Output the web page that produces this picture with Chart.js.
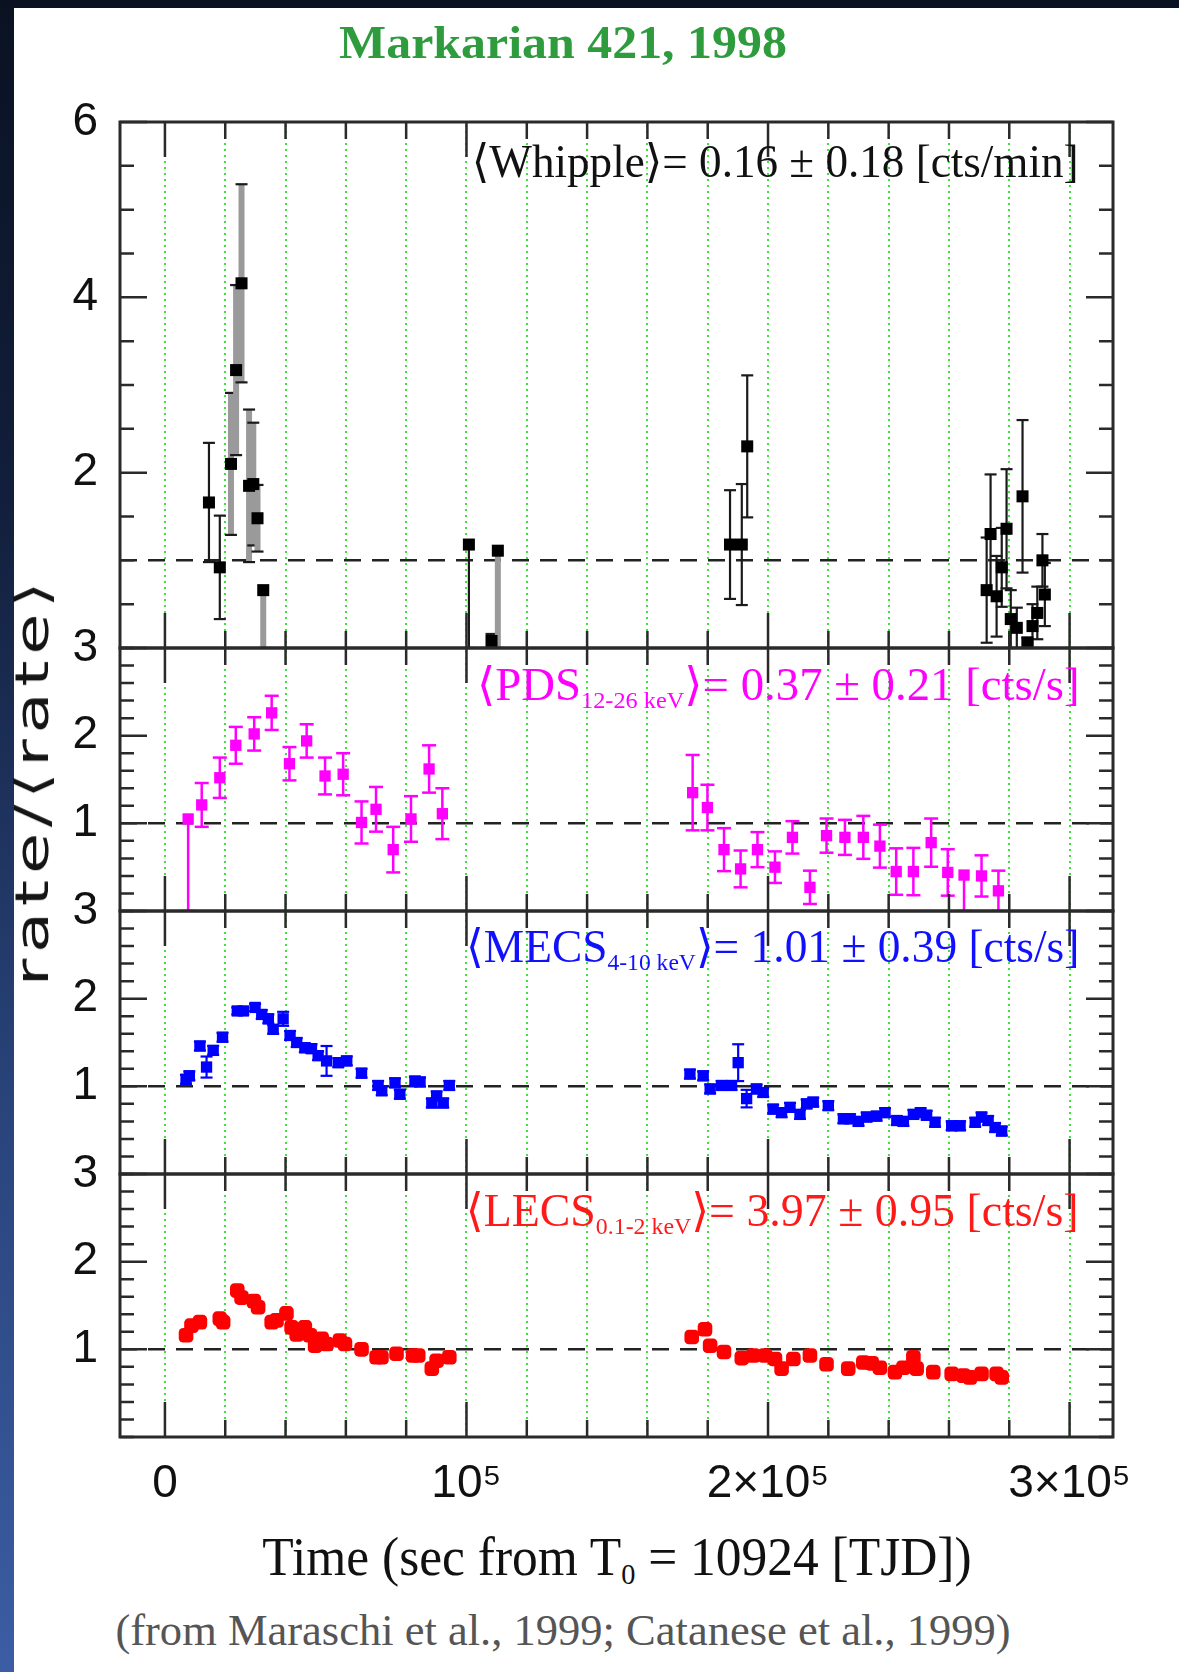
<!DOCTYPE html>
<html lang="en">
<head>
<meta charset="UTF-8">
<title>Markarian 421, 1998</title>
<script src="https://cdn.jsdelivr.net/npm/chart.js"></script>
<style>
  html, body { margin: 0; padding: 0; }
  body {
    width: 1179px; height: 1672px; overflow: hidden; position: relative;
    background: linear-gradient(180deg, #0a1222 0%, #121f3c 30%, #284379 65%, #3c5da4 100%);
  }
  .page { position: absolute; left: 14px; top: 8px; right: 0; bottom: 0; background: #fff; }
  #chart { position: absolute; left: 0; top: 0; }
  .txt { position: absolute; white-space: nowrap; line-height: 1; }
  .center { transform: translate(-50%, -50%) scaleX(var(--k, 1)); }
  .right { transform-origin: 100% 50%; transform: scaleX(var(--k, 1)); }
  .rot { transform: translate(-50%, -50%) rotate(-90deg) scaleX(var(--k, 1)); }
  .serif { font-family: 'Liberation Serif', 'DejaVu Serif', serif; }
  .ann { font-size: 46px; right: 100px; }
  .ann sub { font-size: 0.52em; vertical-align: -0.32em; }
</style>
</head>
<body>
<div class="page"></div>
<canvas id="chart" width="1179" height="1517"></canvas>

<div class="txt center serif" data-w="448" style="left:563px; top:43px; font-size:46px; font-weight:bold; color:#2e9b3d;">Markarian 421, 1998</div>

<div class="txt right serif ann" data-w="607" style="top:139px; color:#111;">⟨Whipple⟩= 0.16 ± 0.18 [cts/min]</div>
<div class="txt right serif ann" data-w="603" style="top:662px; color:#ff00ff;">⟨PDS<sub>12-26 keV</sub>⟩= 0.37 ± 0.21 [cts/s]</div>
<div class="txt right serif ann" data-w="613" style="top:924px; color:#1010ff;">⟨MECS<sub>4-10 keV</sub>⟩= 1.01 ± 0.39 [cts/s]</div>
<div class="txt right serif ann" data-w="613" style="top:1188px; color:#ff1a1a;">⟨LECS<sub>0.1-2 keV</sub>⟩= 3.97 ± 0.95 [cts/s]</div>

<div class="txt rot" data-w="410" style="left:32px; top:781px; font-size:46px; font-family:'DejaVu Sans', sans-serif; color:#151515; letter-spacing:4px;">rate/⟨rate⟩</div>

<div class="txt center serif" data-w="709" style="left:617px; top:1560px; font-size:54px; color:#111;">Time (sec from T<sub style="font-size:0.55em; vertical-align:-0.3em;">0</sub> = 10924 [TJD])</div>
<div class="txt center serif" data-w="896" style="left:563px; top:1631px; font-size:44px; color:#555;">(from Maraschi et al., 1999; Catanese et al., 1999)</div>

<script>
// --- Whipple (TeV), counts normalised to the mean ---
const whippleTime = [14600, 18200, 21900, 23600, 25400, 27900, 29300, 30700, 32600,
  100800, 108300, 110400,
  187400, 191300, 193100,
  272500, 273800, 275800, 277500, 279100, 280500, 282500, 284400, 286000, 287700, 289300, 291000, 291800];
const whippleRate = [1.66, 0.92, 2.10, 3.17, 4.16, 1.85, 1.87, 1.48, 0.66,
  1.18, 0.08, 1.11,
  1.18, 1.18, 2.30,
  0.66, 1.30, 0.59, 0.92, 1.36, 0.33, 0.23, 1.73, 0.06, 0.25, 0.40, 1.00, 0.61];
// [lower, upper] where the bar is one-sided
const whippleErr = [0.68, 0.59, 0.81, 0.97, 1.13, 0.87, 0.70, 0.38, [0.66, 0],
  [1.18, 0], 0.08, [1.11, 0],
  0.62, 0.69, 0.81,
  0.60, 0.68, 0.46, 0.45, 0.68, 0.33, 0.23, 0.87, 0.06, 0.25, 0.30, 0.30, 0.36];

// --- BeppoSAX PDS 12-26 keV ---
const pdsTime = [7700, 12200, 18200, 23500, 29600, 35400, 41300, 47000, 53100, 59100, 65200, 70000, 75700, 81600, 87600, 92000,
  175000, 179900, 185400, 190900, 196500, 202300, 208100, 213900, 219400, 225500, 231600, 237100, 242500, 248200, 254100, 259600, 265000, 270800, 276400];
const pdsRate = [1.05, 1.21, 1.52, 1.89, 2.02, 2.26, 1.68, 1.94, 1.54, 1.56, 1.01, 1.16, 0.70, 1.05, 1.62, 1.11,
  1.35, 1.18, 0.70, 0.48, 0.70, 0.50, 0.84, 0.27, 0.86, 0.84, 0.84, 0.74, 0.45, 0.45, 0.78, 0.44, 0.41, 0.40, 0.23];
const pdsErr = [[1.05, 0], 0.25, 0.23, 0.21, 0.19, 0.195, 0.19, 0.19, 0.21, 0.24, 0.24, 0.255, 0.26, 0.26, 0.27, 0.29,
  0.43, 0.26, 0.245, 0.21, 0.20, 0.18, 0.185, 0.19, 0.195, 0.20, 0.245, 0.245, 0.265, 0.27, 0.275, 0.265, [0.41, 0], 0.235, 0.23];

// --- BeppoSAX MECS 4-10 keV ---
const mecsTime = [7000, 8100, 11600, 13800, 16000, 19100, 24000, 26000, 29900, 32100, 34300, 35900, 39200, 41500, 43700, 46400,
  48600, 50800, 53600, 57500, 60300, 65200, 70700, 71900, 76300, 77900, 82900, 84600, 88500, 90100, 92300, 94300,
  174100, 178500, 180800, 184600, 187900, 190100, 192900, 196200, 198400, 201700, 204500, 207300, 210600, 212800, 215000, 220000,
  225000, 227200, 230000, 232700, 236000, 238800, 242700, 244900, 248200, 250600, 252600, 255400, 260900, 263700, 268700, 270800,
  273000, 275300, 277500];
const mecsRate = [1.08, 1.12, 1.46, 1.22, 1.41, 1.56, 1.86, 1.86, 1.90, 1.82, 1.77, 1.65, 1.77, 1.58, 1.50, 1.44,
  1.43, 1.35, 1.29, 1.27, 1.29, 1.15, 1.01, 0.95, 1.04, 0.91, 1.06, 1.05, 0.81, 0.89, 0.81, 1.01,
  1.14, 1.12, 0.97, 1.01, 1.01, 1.27, 0.86, 0.97, 0.93, 0.74, 0.70, 0.76, 0.68, 0.80, 0.82, 0.78,
  0.63, 0.63, 0.60, 0.65, 0.66, 0.70, 0.61, 0.60, 0.68, 0.70, 0.67, 0.59, 0.55, 0.55, 0.59, 0.65,
  0.61, 0.53, 0.49];
const mecsErr = [0.05, 0.05, 0.05, 0.12, 0.05, 0.05, 0.04, 0.04, 0.04, 0.05, 0.05, 0.05, 0.08, 0.05, 0.05, 0.05,
  0.05, 0.05, 0.17, 0.05, 0.05, 0.05, 0.05, 0.05, 0.05, 0.05, 0.05, 0.05, 0.05, 0.05, 0.05, 0.05,
  0.05, 0.05, 0.05, 0.05, 0.05, 0.21, 0.10, 0.05, 0.05, 0.05, 0.05, 0.05, 0.05, 0.05, 0.05, 0.05,
  0.05, 0.05, 0.05, 0.05, 0.05, 0.05, 0.05, 0.05, 0.05, 0.05, 0.05, 0.05, 0.05, 0.05, 0.05, 0.05,
  0.05, 0.05, 0.05];

// --- BeppoSAX LECS 0.1-2 keV ---
const lecsTime = [7000, 8800, 11600, 18200, 19300, 24000, 25400, 29500, 30900, 35400, 37000, 40300, 42000, 43700, 46400,
  48100, 49800, 52000, 53600, 58000, 59700, 65200, 70200, 71800, 76800, 82300, 84000, 88500, 90100, 94300,
  174700, 179100, 180800, 185400, 191300, 195100, 199000, 202300, 204500, 208400, 213900, 219400, 226600, 231600,
  234400, 237100, 242100, 244900, 248200, 249300, 254800, 260900, 264800, 267000, 270800, 275800, 277500];
const lecsRate = [1.16, 1.27, 1.31, 1.35, 1.31, 1.67, 1.59, 1.55, 1.48, 1.31, 1.33, 1.41, 1.25, 1.17, 1.25,
  1.16, 1.04, 1.12, 1.06, 1.10, 1.06, 1.00, 0.91, 0.91, 0.95, 0.93, 0.93, 0.78, 0.87, 0.91,
  1.14, 1.23, 1.04, 0.97, 0.90, 0.93, 0.93, 0.89, 0.78, 0.89, 0.93, 0.83, 0.78, 0.85,
  0.84, 0.79, 0.74, 0.79, 0.91, 0.78, 0.74, 0.72, 0.70, 0.68, 0.72, 0.72, 0.68];
const lecsErr = lecsRate.map(() => 0.03);

// --- axes ---
const xTicks = [0, 20000, 40000, 60000, 80000, 100000, 120000, 140000, 160000, 180000, 200000,
  220000, 240000, 260000, 280000, 300000];
const xLabelValues = [0, 100000, 200000, 300000];
const xTickLabels = ['0', '10⁵', '2×10⁵', '3×10⁵'];
const whippleTicks = [0, 0.5, 1, 1.5, 2, 2.5, 3, 3.5, 4, 4.5, 5, 5.5, 6];
const whippleLabels = [2, 4, 6];
const rateTicks = [0, 0.2, 0.4, 0.6, 0.8, 1, 1.2, 1.4, 1.6, 1.8, 2, 2.2, 2.4, 2.6, 2.8, 3];
const rateLabels = [1, 2, 3];
const meanLevel = 1;

const tickFont = { family: "'Liberation Sans Narrow', 'Liberation Sans', sans-serif", size: 46 };
const GREEN = '#3de23d';
const GRAY_BARS = [2, 3, 4, 5, 6, 7, 8, 11];

function pts(t, v) { return t.map((x, i) => ({ x: x, y: v[i] })); }

function panelScale(ticks, labels, max, weight, order) {
  return {
    type: 'linear', position: 'left', stack: 'panels', stackWeight: weight, weight: order,
    min: 0, max: max, offset: false,
    afterFit: s => { s.width = 120; },
    afterBuildTicks: s => { s.ticks = ticks.map(v => ({ value: v })); },
    grid: { display: false, drawTicks: false },
    border: { display: false },
    ticks: {
      autoSkip: false, padding: 22, color: '#111', font: tickFont,
      callback: v => labels.includes(v) ? String(v) : ''
    }
  };
}

// green dotted time grid + dashed mean line in each panel
const panelBack = {
  id: 'panelBack',
  beforeDatasetsDraw(chart) {
    const ctx = chart.ctx, x = chart.scales.x;
    const ys = ['yW', 'yP', 'yM', 'yL'].map(id => chart.scales[id]);
    ctx.save();
    ctx.strokeStyle = GREEN; ctx.lineWidth = 2; ctx.setLineDash([2, 4]);
    xTicks.forEach(v => {
      const px = Math.round(x.getPixelForValue(v));
      ys.forEach(y => {
        ctx.beginPath(); ctx.moveTo(px, y.top + 3); ctx.lineTo(px, y.bottom - 2); ctx.stroke();
      });
    });
    ctx.strokeStyle = '#222'; ctx.lineWidth = 2.5; ctx.setLineDash([17, 11]);
    ys.forEach(y => {
      const py = y.getPixelForValue(meanLevel);
      ctx.beginPath(); ctx.moveTo(x.left, py); ctx.lineTo(x.right, py); ctx.stroke();
    });
    ctx.restore();
  }
};

const errorBars = {
  id: 'errorBars',
  beforeDatasetsDraw(chart) {
    const ctx = chart.ctx, x = chart.scales.x;
    chart.data.datasets.forEach(ds => {
      const y = chart.scales[ds.yAxisID];
      ctx.save();
      ctx.beginPath(); ctx.rect(x.left, y.top, x.width, y.height); ctx.clip();
      ds.data.forEach((p, i) => {
        const e = ds.err[i];
        const lo = Array.isArray(e) ? e[0] : e, hi = Array.isArray(e) ? e[1] : e;
        const px = x.getPixelForValue(p.x);
        const y0 = y.getPixelForValue(p.y - lo), y1 = y.getPixelForValue(p.y + hi);
        const gray = ds.grayBars && ds.grayBars.includes(i);
        ctx.strokeStyle = gray ? '#9a9a9a' : ds.errColor;
        ctx.lineWidth = gray ? 6 : ds.errWidth;
        ctx.beginPath(); ctx.moveTo(px, y0); ctx.lineTo(px, y1); ctx.stroke();
        ctx.strokeStyle = ds.errColor; ctx.lineWidth = ds.errWidth;
        const c = ds.capHalf;
        if (lo > 0) { ctx.beginPath(); ctx.moveTo(px - c, y0); ctx.lineTo(px + c, y0); ctx.stroke(); }
        if (hi > 0) { ctx.beginPath(); ctx.moveTo(px - c, y1); ctx.lineTo(px + c, y1); ctx.stroke(); }
      });
      ctx.restore();
    });
  }
};

// panel frames and inward tick marks on all four sides
const panelFrame = {
  id: 'panelFrame',
  afterDatasetsDraw(chart) {
    const ctx = chart.ctx, x = chart.scales.x;
    ctx.save();
    ctx.strokeStyle = '#2a2a2a';
    ['yW', 'yP', 'yM', 'yL'].forEach(id => {
      const y = chart.scales[id];
      const labels = id === 'yW' ? whippleLabels : rateLabels;
      ctx.lineWidth = 2.5;
      y.ticks.forEach(t => {
        const py = y.getPixelForValue(t.value);
        const len = labels.includes(t.value) ? 27 : 14;
        ctx.beginPath(); ctx.moveTo(x.left, py); ctx.lineTo(x.left + len, py);
        ctx.moveTo(x.right, py); ctx.lineTo(x.right - len, py); ctx.stroke();
      });
      xTicks.forEach(v => {
        const px = x.getPixelForValue(v);
        const len = xLabelValues.includes(v) ? 35 : 17;
        ctx.beginPath(); ctx.moveTo(px, y.bottom); ctx.lineTo(px, y.bottom - len);
        ctx.moveTo(px, y.top); ctx.lineTo(px, y.top + len); ctx.stroke();
      });
      ctx.lineWidth = 3;
      ctx.strokeRect(x.left, y.top, x.width, y.height);
    });
    ctx.restore();
  }
};

new Chart(document.getElementById('chart'), {
  type: 'scatter',
  data: {
    datasets: [
      { label: 'Whipple', data: pts(whippleTime, whippleRate), yAxisID: 'yW', err: whippleErr, grayBars: GRAY_BARS,
        errColor: '#1a1a1a', errWidth: 2.2, capHalf: 6,
        pointStyle: 'rect', pointRadius: 8.5, backgroundColor: '#000', borderColor: '#000', borderWidth: 0 },
      { label: 'PDS', data: pts(pdsTime, pdsRate), yAxisID: 'yP', err: pdsErr,
        errColor: '#ff00ff', errWidth: 2.5, capHalf: 7,
        pointStyle: 'rect', pointRadius: 8, backgroundColor: '#ff00ff', borderColor: '#ff00ff', borderWidth: 0 },
      { label: 'MECS', data: pts(mecsTime, mecsRate), yAxisID: 'yM', err: mecsErr,
        errColor: '#0000ff', errWidth: 2.2, capHalf: 6,
        pointStyle: 'rect', pointRadius: 8, backgroundColor: '#0000ff', borderColor: '#0000ff', borderWidth: 0 },
      { label: 'LECS', data: pts(lecsTime, lecsRate), yAxisID: 'yL', err: lecsErr,
        errColor: '#ff0000', errWidth: 2, capHalf: 4,
        pointStyle: 'rectRounded', pointRadius: 8.5, backgroundColor: '#ff0000', borderColor: '#ff0000', borderWidth: 0 }
    ]
  },
  options: {
    responsive: false,
    animation: false,
    layout: { padding: { left: 0, right: 66, top: 122, bottom: 0 } },
    plugins: { legend: { display: false }, tooltip: { enabled: false } },
    scales: {
      yL: panelScale(rateTicks, rateLabels, 3, 1, 1),
      yM: panelScale(rateTicks, rateLabels, 3, 1, 2),
      yP: panelScale(rateTicks, rateLabels, 3, 1, 3),
      yW: panelScale(whippleTicks, whippleLabels, 6, 2, 4),
      x: {
        type: 'linear', position: 'bottom', min: -14900, max: 314400,
        afterFit: s => { s.height = 80; },
        afterBuildTicks: s => { s.ticks = xTicks.map(v => ({ value: v })); },
        grid: { display: false, drawTicks: false },
        border: { display: false },
        ticks: {
          autoSkip: false, maxRotation: 0, minRotation: 0, padding: 20, color: '#111', font: tickFont,
          callback: v => { const i = xLabelValues.indexOf(v); return i >= 0 ? xTickLabels[i] : ''; }
        }
      }
    }
  },
  plugins: [panelBack, errorBars, panelFrame]
});

// squeeze each text block to the width it has in the figure
document.querySelectorAll('[data-w]').forEach(el => {
  el.style.setProperty('--k', (+el.dataset.w / el.offsetWidth).toFixed(3));
});
</script>
</body>
</html>
